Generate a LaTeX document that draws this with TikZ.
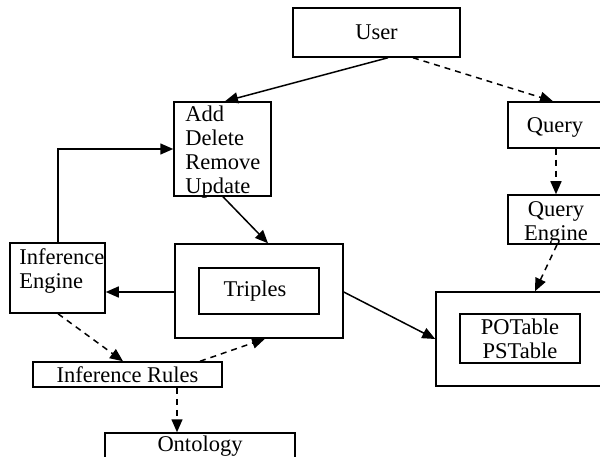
\documentclass[tikz,border=0pt]{standalone}
\usepackage{fontspec}
\setmainfont{Liberation Serif}
\usetikzlibrary{arrows.meta}
\begin{document}
\begin{tikzpicture}[x=1pt,y=1pt,
  box/.style={draw=black, line width=1.5pt, inner sep=0pt, minimum width=#1},
  lbl/.style={font=\fontsize{22.5}{24}\selectfont, inner sep=0pt, align=center},
  conn/.style={line width=1.5pt, -{Triangle[length=13pt,width=11pt]}},
  dconn/.style={conn, dash pattern=on 6pt off 5pt}]
\clip (0,0) rectangle (600,-457);
\fill[white] (0,0) rectangle (600,-457);
% boxes
\node[box=167pt, minimum height=49pt, lbl] (user) at (376.5,-32.5) {User};
\node[box=97pt, minimum height=94pt] (add) at (222.5,-149) {};
\node[lbl, anchor=north west, align=left] (addtxt) at ([xshift=12pt,yshift=-4pt]add.north west) {Add\\Delete\\Remove\\Update};
\node[box=112pt, minimum height=46pt, lbl] (query) at (564,-125) {};
\node[lbl] (querytxt) at (555,-127) {Query};
\node[box=112pt, minimum height=49pt] (qeng) at (564,-219.5) {};
\node[lbl] (qengtxt) at (556,-223) {Query\\Engine};
\node[box=95pt, minimum height=70pt] (infeng) at (57.5,-278) {};
\node[lbl, anchor=north west, align=left] (infengtxt) at ([xshift=10pt,yshift=-6pt]infeng.north west) {Inference\\Engine};
\node[box=168pt, minimum height=94pt] (triples) at (259,-291) {};
\node[box=120pt, minimum height=46pt, lbl] (triplesin) at (259,-291) {\hspace*{-8pt}Triples};
\node[box=184pt, minimum height=94pt] (po) at (528,-339) {};
\node[box=120pt, minimum height=49pt, lbl] (poin) at (520,-338.5) {POTable\\PSTable};
\node[box=189pt, minimum height=25pt, lbl] (rules) at (127.5,-374.5) {Inference Rules};
\node[box=190pt, minimum height=46pt] (onto) at (200,-456) {};
\node[lbl] (ontotxt) at (200,-446) {Ontology};
% connectors
\draw[conn] ([xshift=11.5pt]user.south) -- ([xshift=2.5pt]add.north);
\draw[dconn] ([xshift=36.5pt]user.south) -- ([xshift=-11pt]query.north);
\draw[dconn] ([xshift=-8pt]query.south) -- ([xshift=-8pt]qeng.north);
\draw[dconn] ([xshift=-7pt]qeng.south) -- ([xshift=7pt]po.north);
\draw[conn] ([xshift=0.5pt]add.south) -- ([xshift=9pt]triples.north);
\draw[conn] ([yshift=-1pt]triples.west) -- ([yshift=-1pt]triples.west -| infeng.east);
\draw[conn] ([yshift=-1pt]triples.east) -- (po.west);
\draw[conn] ([xshift=0.5pt]infeng.north) |- (add.west);
\draw[dconn] ([xshift=0.5pt]infeng.south) -- ([xshift=-4.5pt]rules.north);
\draw[dconn] ([xshift=72.5pt]rules.north) -- ([xshift=6pt]triples.south);
\draw[dconn] ([xshift=49.5pt]rules.south) -- ([xshift=-23pt]onto.north);
\end{tikzpicture}
\end{document}
